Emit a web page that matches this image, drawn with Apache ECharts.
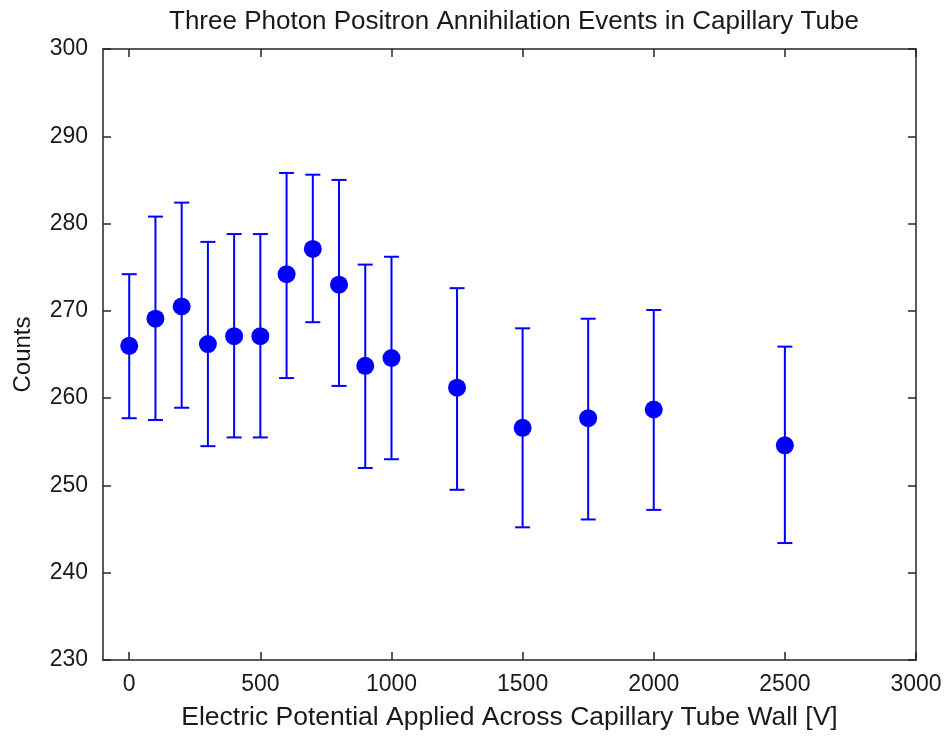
<!DOCTYPE html>
<html><head><meta charset="utf-8">
<script src="https://cdn.jsdelivr.net/npm/echarts@6/dist/echarts.min.js"></script>
<style>html,body{margin:0;padding:0;background:#fff}#c{width:945px;height:736px}</style>
</head><body><div id="c"></div>
<script>
const voltages   = [0, 100, 200, 300, 400, 500, 600, 700, 800, 900, 1000, 1250, 1500, 1750, 2000, 2500];
const counts     = [266.0, 269.1, 270.5, 266.2, 267.1, 267.1, 274.2, 277.1, 273.0, 263.7, 264.6, 261.2, 256.6, 257.7, 258.7, 254.6];
const upperBound = [274.2, 280.8, 282.4, 277.9, 278.8, 278.8, 285.8, 285.6, 285.0, 275.3, 276.2, 272.6, 268.0, 269.1, 270.1, 265.9];
const lowerBound = [257.7, 257.5, 258.9, 254.5, 255.5, 255.5, 262.3, 268.7, 261.4, 252.0, 253.0, 249.5, 245.2, 246.1, 247.2, 243.4];
const xTickValues = [0, 500, 1000, 1500, 2000, 2500, 3000];
const titleText = 'Three Photon Positron Annihilation Events in Capillary Tube';
const xName = 'Electric Potential Applied Across Capillary Tube Wall [V]';
const yName = 'Counts';

const FONT = '"Liberation Sans", Arial, sans-serif';
const AX = '#262626';
const TXT = '#1a1a1a';
const BLUE = '#0000ff';

const chart = echarts.init(document.getElementById('c'), null, {renderer: 'canvas'});
const pointData = voltages.map((v, i) => [v, counts[i]]);
const errData = voltages.map((v, i) => [v, lowerBound[i], upperBound[i]]);

const axisLine = {show: true, onZero: false, lineStyle: {color: AX, width: 1.5}};
const tickStyle = {color: AX, width: 1.5};
const plain = v => String(v);

chart.setOption({
  animation: false,
  backgroundColor: '#fff',
  title: {
    text: titleText, left: 164, top: 4,
    textStyle: {fontFamily: FONT, fontSize: 26, fontWeight: 'normal', color: TXT}
  },
  grid: {left: 103, right: 29, top: 49, bottom: 74, containLabel: false},
  xAxis: [
    {
      type: 'value', min: -100, max: 3000, position: 'bottom',
      name: xName, nameLocation: 'middle', nameGap: 44,
      nameTextStyle: {fontFamily: FONT, fontSize: 26.5, color: TXT},
      axisLine: axisLine,
      axisTick: {show: true, inside: true, length: 8, lineStyle: tickStyle, customValues: xTickValues},
      axisLabel: {show: true, fontFamily: FONT, fontSize: 23, color: TXT, margin: 13,
        customValues: xTickValues, formatter: plain},
      splitLine: {show: false}
    },
    {
      type: 'value', min: -100, max: 3000, position: 'top',
      axisLine: axisLine,
      axisTick: {show: true, inside: true, length: 8, lineStyle: tickStyle, customValues: xTickValues},
      axisLabel: {show: false},
      splitLine: {show: false}
    }
  ],
  yAxis: [
    {
      type: 'value', min: 230, max: 300, interval: 10, position: 'left',
      name: yName, nameLocation: 'middle', nameGap: 68,
      nameTextStyle: {fontFamily: FONT, fontSize: 24, color: TXT},
      axisLine: axisLine,
      axisTick: {show: true, inside: true, length: 8, lineStyle: tickStyle},
      axisLabel: {show: true, fontFamily: FONT, fontSize: 23, color: TXT, margin: 15, formatter: plain},
      splitLine: {show: false}
    },
    {
      type: 'value', min: 230, max: 300, interval: 10, position: 'right',
      axisLine: axisLine,
      axisTick: {show: true, inside: true, length: 8, lineStyle: tickStyle},
      axisLabel: {show: false},
      splitLine: {show: false}
    }
  ],
  series: [
    {
      type: 'custom', xAxisIndex: 0, yAxisIndex: 0, z: 2,
      data: errData,
      encode: {x: 0, y: [1, 2]},
      renderItem: function (params, api) {
        const x = api.value(0);
        const pLo = api.coord([x, api.value(1)]);
        const pHi = api.coord([x, api.value(2)]);
        const w = 7.5;
        const st = {stroke: BLUE, lineWidth: 2};
        return {type: 'group', children: [
          {type: 'line', shape: {x1: pLo[0], y1: pLo[1], x2: pHi[0], y2: pHi[1]}, style: st},
          {type: 'line', shape: {x1: pHi[0] - w, y1: pHi[1], x2: pHi[0] + w, y2: pHi[1]}, style: st},
          {type: 'line', shape: {x1: pLo[0] - w, y1: pLo[1], x2: pLo[0] + w, y2: pLo[1]}, style: st}
        ]};
      }
    },
    {
      type: 'scatter', xAxisIndex: 0, yAxisIndex: 0, z: 3,
      data: pointData, symbol: 'circle', symbolSize: 18,
      itemStyle: {color: BLUE, opacity: 1}
    }
  ]
});
</script></body></html>
